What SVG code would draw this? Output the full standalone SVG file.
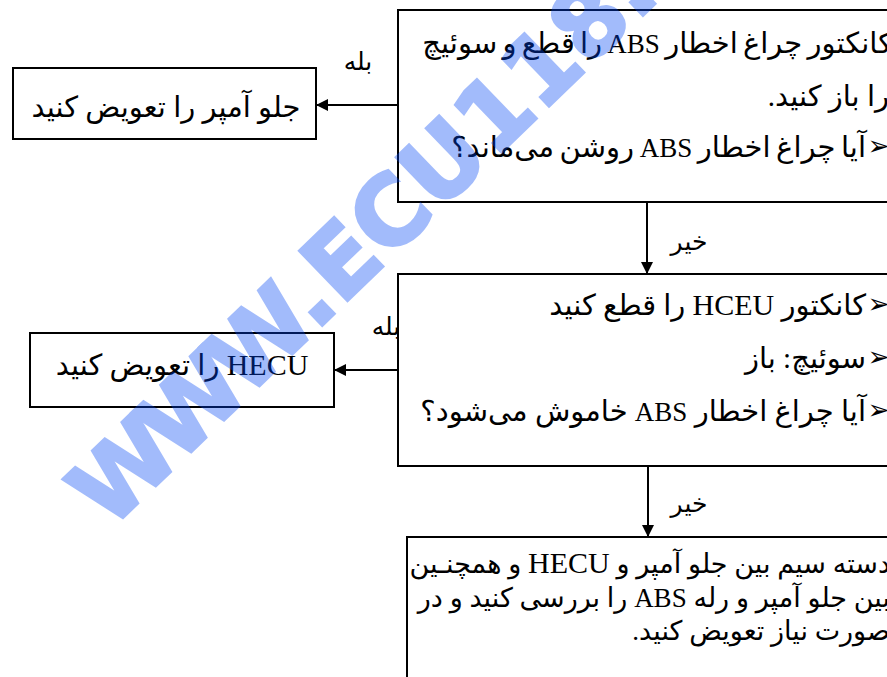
<svg xmlns="http://www.w3.org/2000/svg" width="887" height="677" viewBox="0 0 887 677">
<defs>
<marker id="arr" markerWidth="12" markerHeight="12" refX="11" refY="6" orient="auto" markerUnits="userSpaceOnUse">
<path d="M0,0 L12,6 L0,12 Z" fill="#000"/>
</marker>
<style>
.box{fill:#fff;stroke:#000;stroke-width:2}
.t{font-family:"Liberation Serif","DejaVu Sans",serif;font-size:29px;fill:#000;direction:rtl;text-anchor:start}
.t4{font-family:"Liberation Serif","DejaVu Sans",serif;font-size:27px;fill:#000;direction:rtl;text-anchor:start}
.c{font-family:"Liberation Serif","DejaVu Sans",serif;font-size:29px;fill:#000;direction:rtl;text-anchor:middle}
.lat{font-size:27px}
.big{font-size:30px}
.bul{font-family:"DejaVu Sans",sans-serif;font-size:27px;fill:#000;text-anchor:end;direction:ltr}
.lbl{font-family:"Liberation Serif","DejaVu Sans",serif;font-size:25px;fill:#000;direction:rtl;text-anchor:middle}
.ln{stroke:#000;stroke-width:2;fill:none}
.wm{font-family:"DejaVu Sans",sans-serif;font-weight:bold;font-size:95px;fill:rgb(0,70,246);stroke:rgb(0,70,246);stroke-width:3}
</style>
</defs>
<rect width="887" height="677" fill="#fff"/>
<g id="node-check-lamp">
<rect class="box" x="398" y="10" width="520" height="192"/>
<text class="t" x="892" y="53" word-spacing="-2">کانکتور چراغ اخطار <tspan class="lat">ABS</tspan> را قطع و سوئیچ</text>
<text class="t" x="889" y="106">را باز کنید.</text>
<text class="bul" x="890" y="155">➢</text>
<text class="t" x="866" y="157" word-spacing="-1.6">آیا چراغ اخطار <tspan class="lat">ABS</tspan> روشن می‌ماند؟</text>
</g>
<g id="node-replace-fuse">
<rect class="box" x="13" y="68" width="303" height="71"/>
<text class="c" x="166" y="117">جلو آمپر را تعویض کنید</text>
</g>
<g id="node-hecu-check">
<rect class="box" x="398" y="274" width="520" height="192"/>
<text class="bul" x="890" y="313">➢</text>
<text class="t" x="866" y="315">کانکتور <tspan class="big">HCEU</tspan> را قطع کنید</text>
<text class="bul" x="890" y="366">➢</text>
<text class="t" x="866" y="368">سوئیچ: باز</text>
<text class="bul" x="890" y="419">➢</text>
<text class="t" x="866" y="421">آیا چراغ اخطار <tspan class="lat">ABS</tspan> خاموش می‌شود؟</text>
</g>
<g id="node-replace-hecu">
<rect class="box" x="30" y="333" width="304" height="74"/>
<text class="c" x="182" y="375"><tspan class="big">HECU</tspan> را تعویض کنید</text>
</g>
<g id="node-wiring">
<rect class="box" x="407" y="537" width="520" height="160"/>
<text class="t4" x="890" y="573">دسته سیم بین جلو آمپر و <tspan class="big">HECU</tspan> و همچنـین</text>
<text class="t4" x="890" y="607">بین جلو آمپر و رله <tspan class="lat">ABS</tspan> را بررسی کنید و در</text>
<text class="t4" x="890" y="640">صورت نیاز تعویض کنید.</text>
</g>
<g id="connectors">
<line class="ln" x1="398" y1="105" x2="317" y2="105" marker-end="url(#arr)"/>
<text class="lbl" x="358" y="70">بله</text>
<line class="ln" x1="647" y1="202" x2="647" y2="273" marker-end="url(#arr)"/>
<text class="lbl" x="689" y="250">خیر</text>
<line class="ln" x1="398" y1="370" x2="335" y2="370" marker-end="url(#arr)"/>
<text class="lbl" x="386" y="335">بله</text>
<line class="ln" x1="648" y1="466" x2="648" y2="536" marker-end="url(#arr)"/>
<text class="lbl" x="689" y="512">خیر</text>
</g>
<g opacity="0.36">
<text class="wm" x="109" y="531" transform="rotate(-44 109 531)">W<tspan dx="-10">W</tspan><tspan dx="-10">W</tspan>.ECU118.IR</text>
</g>
</svg>
